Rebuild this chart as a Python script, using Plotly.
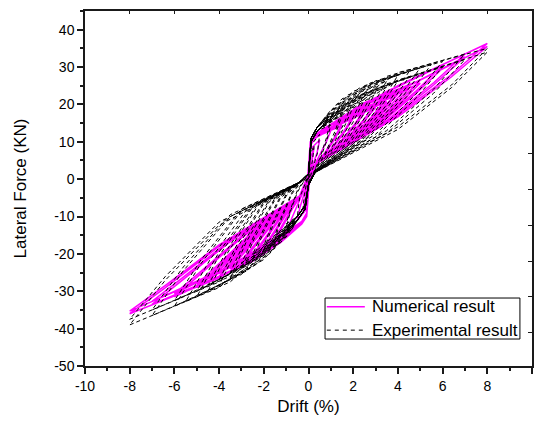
import plotly.graph_objects as go

# Drift (%) / Lateral force (kN) vertices of each hysteresis cycle
num_loops = [
    [(0, 0), (0.1, 6), (0.25, 8.5), (0.15, 5), (0.03, 0), (-0.1, -6), (-0.25, -8.5), (-0.15, -5), (-0.03, 0)],
    [(0.08, 8), (0.5, 10.5), (0.38, 7), (0.12, 2.5), (0.02, -2), (-0.08, -8), (-0.5, -11), (-0.38, -7.5), (-0.12, -2.5), (-0.02, 2)],
    [(0.08, 9), (0.3, 11), (0.6, 12), (1, 13), (0.8, 10), (0.5, 6.5), (0.25, 3.5), (0.03, -1), (-0.08, -9), (-0.3, -11.5), (-0.6, -12.8), (-1, -14), (-0.8, -11.2), (-0.5, -7), (-0.25, -3.5), (-0.03, 1)],
    [(0.08, 9.5), (0.3, 11.5), (0.75, 13.3), (1.5, 15), (1.2, 11.5), (0.75, 7.2), (0.3, 4), (0.03, -1), (-0.08, -9.5), (-0.3, -12), (-0.75, -14), (-1.5, -16.5), (-1.2, -13.2), (-0.75, -8.2), (-0.3, -4), (-0.03, 1)],
    [(0.08, 9), (0.3, 11), (0.75, 12.5), (1.5, 14.3), (1.2, 11), (0.75, 6.8), (0.3, 3.8), (0.03, -1), (-0.08, -9), (-0.3, -11.3), (-0.75, -13.2), (-1.5, -15.8), (-1.2, -12.6), (-0.75, -7.8), (-0.3, -3.8), (-0.03, 1)],
    [(0.08, 10), (0.3, 12), (1, 14.5), (2, 17), (1.6, 13), (1, 8), (0.35, 4.3), (0.03, -1), (-0.08, -10), (-0.3, -12), (-1, -15.5), (-2, -19), (-1.6, -15.2), (-1, -9.5), (-0.35, -4.5), (-0.03, 1)],
    [(0.08, 9.5), (0.3, 11.5), (1, 13.5), (2, 16.3), (1.6, 12.5), (1, 7.6), (0.35, 4), (0.03, -1), (-0.08, -9.5), (-0.3, -11.5), (-1, -14.5), (-2, -18.2), (-1.6, -14.6), (-1, -9), (-0.35, -4.2), (-0.03, 1)],
    [(0.08, 10), (0.3, 12), (1.25, 15.5), (2.5, 18.5), (2, 14.2), (1.25, 8.8), (0.4, 4.5), (0.03, -1), (-0.08, -10), (-0.3, -12), (-1.25, -17), (-2.5, -21), (-2, -16.8), (-1.25, -10.5), (-0.4, -4.7), (-0.03, 1)],
    [(0.08, 9.5), (0.3, 11.5), (1.25, 14.3), (2.5, 17.7), (2, 13.6), (1.25, 8.4), (0.4, 4.3), (0.03, -1), (-0.08, -9.5), (-0.3, -11.5), (-1.25, -15.8), (-2.5, -20.2), (-2, -16.2), (-1.25, -10), (-0.4, -4.5), (-0.03, 1)],
    [(0.08, 10), (0.3, 12), (1.5, 16.5), (3, 20), (2.4, 15.4), (1.5, 9.5), (0.4, 4.5), (0.03, -1), (-0.08, -10), (-0.3, -12), (-1.5, -18), (-3, -22.5), (-2.4, -18), (-1.5, -11.2), (-0.4, -4.7), (-0.03, 1)],
    [(0.08, 9.5), (0.3, 11.5), (1.5, 15.2), (3, 19.2), (2.4, 14.8), (1.5, 9), (0.4, 4.3), (0.03, -1), (-0.08, -9.5), (-0.3, -11.5), (-1.5, -16.7), (-3, -21.7), (-2.4, -17.4), (-1.5, -10.8), (-0.4, -4.5), (-0.03, 1)],
    [(0.08, 10), (0.3, 12), (1.75, 17.5), (3.5, 21.5), (2.8, 16.5), (1.75, 10.2), (0.4, 4.5), (0.03, -1), (-0.08, -10), (-0.3, -12), (-1.75, -19), (-3.5, -24), (-2.8, -19.2), (-1.75, -12), (-0.4, -4.7), (-0.03, 1)],
    [(0.08, 9.5), (0.3, 11.5), (1.75, 16.2), (3.5, 20.7), (2.8, 16), (1.75, 9.7), (0.4, 4.3), (0.03, -1), (-0.08, -9.5), (-0.3, -11.5), (-1.75, -17.6), (-3.5, -23.2), (-2.8, -18.6), (-1.75, -11.6), (-0.4, -4.5), (-0.03, 1)],
    [(0.08, 10), (0.3, 12), (2, 18.5), (4, 23.5), (3.2, 18), (2, 11), (0.4, 4.5), (0.03, -1), (-0.08, -10), (-0.3, -12), (-2, -20), (-4, -26), (-3.2, -20.8), (-2, -13), (-0.4, -4.7), (-0.03, 1)],
    [(0.08, 9.5), (0.3, 11.5), (2, 17), (4, 22.7), (3.2, 17.5), (2, 10.6), (0.4, 4.3), (0.03, -1), (-0.08, -9.5), (-0.3, -11.5), (-2, -18.5), (-4, -25.2), (-3.2, -20.2), (-2, -12.6), (-0.4, -4.5), (-0.03, 1)],
    [(0.08, 10), (0.3, 12), (2.25, 19.5), (4.5, 25), (3.6, 19.3), (2.25, 11.8), (0.4, 4.5), (0.03, -1), (-0.08, -10), (-0.3, -12), (-2.25, -21), (-4.5, -27.5), (-3.6, -22), (-2.25, -13.7), (-0.4, -4.7), (-0.03, 1)],
    [(0.08, 9.5), (0.3, 11.5), (2.25, 18), (4.5, 24.2), (3.6, 18.6), (2.25, 11.3), (0.4, 4.3), (0.03, -1), (-0.08, -9.5), (-0.3, -11.5), (-2.25, -19.5), (-4.5, -26.7), (-3.6, -21.4), (-2.25, -13.3), (-0.4, -4.5), (-0.03, 1)],
    [(0.08, 10), (0.3, 12), (2.5, 20.5), (5, 26.5), (4, 20.4), (2.5, 12.5), (0.4, 4.5), (0.03, -1), (-0.08, -10), (-0.3, -12), (-2.5, -22), (-5, -29), (-4, -23.2), (-2.5, -14.5), (-0.4, -4.7), (-0.03, 1)],
    [(0.08, 9.5), (0.3, 11.5), (2.5, 19), (5, 25.7), (4, 19.8), (2.5, 12), (0.4, 4.3), (0.03, -1), (-0.08, -9.5), (-0.3, -11.5), (-2.5, -20.5), (-5, -28.2), (-4, -22.6), (-2.5, -14), (-0.4, -4.5), (-0.03, 1)],
    [(0.08, 10), (0.3, 12), (3, 21.8), (6, 30.5), (4.8, 23.5), (3, 14.3), (0.4, 4.5), (0.03, -1), (-0.08, -10), (-0.3, -12), (-3, -23.2), (-6, -31.5), (-4.8, -25.2), (-3, -15.7), (-0.4, -4.7), (-0.03, 1)],
    [(0.08, 9.5), (0.3, 11.5), (3, 20.3), (6, 29.7), (4.8, 22.9), (3, 13.8), (0.4, 4.3), (0.03, -1), (-0.08, -9.5), (-0.3, -11.5), (-3, -21.7), (-6, -30.7), (-4.8, -24.6), (-3, -15.3), (-0.4, -4.5), (-0.03, 1)],
    [(0.08, 10), (0.3, 12), (3.5, 23.5), (7, 33.5), (5.6, 25.8), (3.5, 15.7), (0.4, 4.5), (0.03, -1), (-0.08, -10), (-0.3, -12), (-3.5, -24.7), (-7, -33.5), (-5.6, -26.8), (-3.5, -16.7), (-0.4, -4.7), (-0.03, 1)],
    [(0.08, 9.5), (0.3, 11.5), (3.5, 22), (7, 32.7), (5.6, 25.2), (3.5, 15.2), (0.4, 4.3), (0.03, -1), (-0.08, -9.5), (-0.3, -11.5), (-3.5, -23.2), (-7, -32.7), (-5.6, -26.2), (-3.5, -16.3), (-0.4, -4.5), (-0.03, 1)],
    [(0.08, 10), (0.3, 12), (4, 25), (8, 36.3), (6.4, 28), (4, 17.2), (0.4, 4.5), (0.03, -1), (-0.08, -10), (-0.3, -12), (-4, -26.5), (-8, -36), (-6.4, -29), (-4, -18), (-0.4, -4.7), (-0.03, 1)],
    [(0.08, 9.5), (0.3, 11.5), (4, 23.5), (8, 35.5), (6.4, 27.4), (4, 16.7), (0.4, 4.3), (0.03, -1), (-0.08, -9.5), (-0.3, -11.5), (-4, -25), (-8, -35.3), (-6.4, -28.4), (-4, -17.6), (-0.4, -4.5), (-0.03, 0)],
]

exp_loops = [
    [(0, 0), (0.1, 7), (0.25, 9), (0.18, 5), (0.05, 1), (0, -1), (-0.1, -6), (-0.25, -8), (-0.18, -4), (-0.05, 0), (0, 1)],
    [(0.1, 9), (0.5, 12), (0.4, 7), (0.15, 2), (0, -1), (-0.1, -7), (-0.5, -10), (-0.4, -5), (-0.15, -1), (0, 1)],
    [(0.12, 11), (0.4, 14), (1, 16), (0.8, 11), (0.5, 5.5), (0.2, 1.5), (0, -1.5), (-0.15, -8), (-0.5, -11), (-1, -13), (-0.8, -8.5), (-0.5, -3.5), (-0.2, -0.5), (0, 1.5)],
    [(0.12, 10), (0.4, 13), (1, 14.5), (0.8, 10), (0.5, 5), (0.2, 1.2), (0, -1.5), (-0.15, -7), (-0.5, -10), (-1, -12), (-0.8, -8), (-0.5, -3), (-0.2, -0.3), (0, 1.5)],
    [(0.12, 11), (0.4, 14), (0.75, 16.5), (1.5, 18.5), (1.2, 13), (0.75, 7), (0.25, 2), (0, -1.5), (-0.15, -8), (-0.5, -11), (-0.75, -13.5), (-1.5, -16), (-1.2, -10.5), (-0.75, -4), (-0.3, -0.5), (0, 1.5)],
    [(0.12, 10), (0.4, 13), (0.75, 15), (1.5, 17), (1.2, 12), (0.75, 6.5), (0.25, 1.8), (0, -1.5), (-0.15, -7), (-0.5, -10), (-0.75, -12.5), (-1.5, -15), (-1.2, -9.8), (-0.75, -3.6), (-0.3, -0.4), (0, 1.5)],
    [(0.12, 11), (0.4, 14), (1, 18.5), (2, 21), (1.6, 15), (1, 8), (0.3, 2), (0, -1.5), (-0.15, -8), (-0.5, -11), (-1, -15.5), (-2, -19), (-1.6, -12.5), (-1, -4.5), (-0.4, -1), (0, 1.5)],
    [(0.12, 10), (0.4, 13), (1, 16.5), (2, 19.3), (1.6, 14), (1, 7.3), (0.3, 1.8), (0, -1.5), (-0.15, -7), (-0.5, -10), (-1, -14), (-2, -17.8), (-1.6, -11.7), (-1, -4), (-0.4, -0.8), (0, 1.5)],
    [(0.12, 11), (0.4, 14), (1.25, 20), (2.5, 23), (2, 16.5), (1.25, 8.5), (0.3, 2), (0, -1.5), (-0.15, -8), (-0.5, -11), (-1.25, -17), (-2.5, -21.5), (-2, -14), (-1.25, -5), (-0.4, -1), (0, 1.5)],
    [(0.12, 10), (0.4, 13), (1.25, 18), (2.5, 21.3), (2, 15.3), (1.25, 7.8), (0.3, 1.8), (0, -1.5), (-0.15, -7), (-0.5, -10), (-1.25, -15.5), (-2.5, -20.2), (-2, -13.2), (-1.25, -4.5), (-0.4, -0.8), (0, 1.5)],
    [(0.12, 11), (0.4, 14), (1.5, 21.5), (3, 24.8), (2.4, 17.8), (1.5, 9), (0.3, 2), (0, -1.5), (-0.15, -8), (-0.5, -11), (-1.5, -18.5), (-3, -24), (-2.4, -15.5), (-1.5, -5.5), (-0.4, -1), (0, 1.5)],
    [(0.12, 10), (0.4, 13), (1.5, 19.5), (3, 23.2), (2.4, 16.7), (1.5, 8.3), (0.3, 1.8), (0, -1.5), (-0.15, -7), (-0.5, -10), (-1.5, -17), (-3, -22.6), (-2.4, -14.6), (-1.5, -5), (-0.4, -0.8), (0, 1.5)],
    [(0.12, 11), (0.4, 14), (1.75, 22.5), (3.5, 26.3), (2.8, 19), (1.75, 9.5), (0.3, 2), (0, -1.5), (-0.15, -8), (-0.5, -11), (-1.75, -20), (-3.5, -26.5), (-2.8, -17), (-1.75, -6), (-0.4, -1), (0, 1.5)],
    [(0.12, 10), (0.4, 13), (1.75, 20.5), (3.5, 24.7), (2.8, 17.8), (1.75, 8.8), (0.3, 1.8), (0, -1.5), (-0.15, -7), (-0.5, -10), (-1.75, -18.5), (-3.5, -25), (-2.8, -16), (-1.75, -5.5), (-0.4, -0.8), (0, 1.5)],
    [(0.12, 11), (0.4, 14), (2, 23.5), (4, 27.8), (3.2, 20), (2, 10), (0.3, 2), (0, -1.5), (-0.15, -8), (-0.5, -11), (-2, -21.5), (-4, -28.5), (-3.2, -18.5), (-2, -6.5), (-0.4, -1), (0, 1.5)],
    [(0.12, 10), (0.4, 13), (2, 21.5), (4, 26.3), (3.2, 19), (2, 9.3), (0.3, 1.8), (0, -1.5), (-0.15, -7), (-0.5, -10), (-2, -20), (-4, -27), (-3.2, -17.5), (-2, -6), (-0.4, -0.8), (0, 1.5)],
    [(0.12, 11), (0.4, 14), (2.25, 24.3), (4.5, 28.8), (3.6, 20.7), (2.25, 10.5), (0.3, 2), (0, -1.5), (-0.15, -8), (-0.5, -11), (-2.25, -22.5), (-4.5, -30), (-3.6, -19.5), (-2.25, -7), (-0.4, -1), (0, 1.5)],
    [(0.12, 10), (0.4, 13), (2.25, 22.3), (4.5, 27.3), (3.6, 19.7), (2.25, 9.8), (0.3, 1.8), (0, -1.5), (-0.15, -7), (-0.5, -10), (-2.25, -21), (-4.5, -28.5), (-3.6, -18.5), (-2.25, -6.5), (-0.4, -0.8), (0, 1.5)],
    [(0.12, 11), (0.4, 14), (2.5, 25), (5, 29.8), (4, 21.5), (2.5, 11), (0.3, 2), (0, -1.5), (-0.15, -8), (-0.5, -11), (-2.5, -23.5), (-5, -31.5), (-4, -20.5), (-2.5, -7.5), (-0.4, -1), (0, 1.5)],
    [(0.12, 10), (0.4, 13), (2.5, 23), (5, 28.3), (4, 20.4), (2.5, 10.3), (0.3, 1.8), (0, -1.5), (-0.15, -7), (-0.5, -10), (-2.5, -22), (-5, -30), (-4, -19.5), (-2.5, -7), (-0.4, -0.8), (0, 1.5)],
    [(0.12, 11), (0.4, 14), (2.75, 25.7), (5.5, 30.7), (4.4, 22.1), (2.75, 11.5), (0.3, 2), (0, -1.5), (-0.15, -8), (-0.5, -11), (-2.75, -24.5), (-5.5, -32.8), (-4.4, -21.5), (-2.75, -8), (-0.4, -1), (0, 1.5)],
    [(0.12, 11), (0.4, 14), (3, 26.3), (6, 31.5), (4.8, 22.7), (3, 12), (0.3, 2), (0, -1.5), (-0.15, -8), (-0.5, -11), (-3, -25.5), (-6, -34), (-4.8, -22.5), (-3, -8.5), (-0.4, -1), (0, 1.5)],
    [(0.12, 10), (0.4, 13), (3, 24.3), (6, 30), (4.8, 21.6), (3, 11.3), (0.3, 1.8), (0, -1.5), (-0.15, -7), (-0.5, -10), (-3, -24), (-6, -32.5), (-4.8, -21.5), (-3, -8), (-0.4, -0.8), (0, 1.5)],
    [(0.12, 11), (0.4, 14), (3.5, 27.5), (7, 33.5), (5.6, 24.1), (3.5, 13), (0.3, 2), (0, -1.5), (-0.15, -8), (-0.5, -11), (-3.5, -27.5), (-7, -36.5), (-5.6, -24.5), (-3.5, -10), (-0.4, -1), (0, 1.5)],
    [(0.12, 10), (0.4, 13), (3.5, 25.5), (7, 32), (5.6, 23), (3.5, 12.3), (0.3, 1.8), (0, -1.5), (-0.15, -7), (-0.5, -10), (-3.5, -26), (-7, -35), (-5.6, -23.5), (-3.5, -9.5), (-0.4, -0.8), (0, 1.5)],
    [(0.12, 11), (0.4, 14), (4, 28.5), (8, 35), (6.4, 25.2), (4, 14), (0.3, 2), (0, -1.5), (-0.15, -8), (-0.5, -11), (-4, -29), (-8, -39), (-6.4, -27), (-4, -12.3), (-0.4, -1), (0, 1.5)],
    [(0.12, 10), (0.4, 13), (4, 26.5), (8, 34), (6.4, 24.5), (4, 13.3), (0.3, 1.8), (0, -1.5), (-0.15, -7), (-0.5, -10), (-4, -27.5), (-8, -37.5), (-6.4, -26), (-4, -11.5), (-0.4, -0.8), (0, 0)],
]

x_ticks = [-10, -8, -6, -4, -2, 0, 2, 4, 6, 8, 10]
x_tick_labels = ["-10", "-8", "-6", "-4", "-2", "0", "2", "4", "6", "8", "10"]
y_ticks = [-50, -40, -30, -20, -10, 0, 10, 20, 30, 40]
y_tick_labels = ["-50", "-40", "-30", "-20", "-10", "0", "10", "20", "30", "40"]
series_names = ["Numerical result", "Experimental result"]


def flatten(loops):
    xs, ys = [], []
    for loop in loops:
        for px, py in loop:
            xs.append(px)
            ys.append(py)
    return xs, ys


num_x, num_y = flatten(num_loops)
exp_x, exp_y = flatten(exp_loops)

FONT = "Liberation Sans, Arial, sans-serif"
AX = "#1a1a1a"
MAG = "#ff00ff"

fig = go.Figure()
fig.add_trace(go.Scatter(x=num_x, y=num_y, mode="lines", name=series_names[0],
                         line=dict(color=MAG, width=1.5), showlegend=False))
fig.add_trace(go.Scatter(x=exp_x, y=exp_y, mode="lines", name=series_names[1],
                         line=dict(color="black", width=1, dash="4px,3px"), showlegend=False))
# dummy trace so the top/right frame axes are drawn
fig.add_trace(go.Scatter(x=[None], y=[None], xaxis="x2", yaxis="y2", showlegend=False))

# legend box drawn in paper coordinates (compact like the original)
lx0, lx1, ly0, ly1 = 0.537, 0.973, 0.076, 0.1915
row_y = [0.167, 0.101]
shapes = [
    dict(type="rect", xref="paper", yref="paper", x0=lx0, x1=lx1, y0=ly0, y1=ly1,
         line=dict(color="black", width=1), fillcolor="white", layer="above"),
    dict(type="line", xref="paper", yref="paper", x0=0.541, x1=0.626, y0=row_y[0], y1=row_y[0],
         line=dict(color=MAG, width=1.5), layer="above"),
    dict(type="line", xref="paper", yref="paper", x0=0.541, x1=0.626, y0=row_y[1], y1=row_y[1],
         line=dict(color="black", width=1, dash="4px,4px"), layer="above"),
]
annotations = [
    dict(xref="paper", yref="paper", x=0.638, y=row_y[i], text=series_names[i], showarrow=False,
         xanchor="left", yanchor="middle", font=dict(size=17, family=FONT, color="black"))
    for i in range(2)
]

fig.update_layout(
    width=536, height=423,
    margin=dict(l=85, r=4, t=11, b=57),
    paper_bgcolor="white", plot_bgcolor="white",
    font=dict(family=FONT, color="black"),
    showlegend=False,
    shapes=shapes, annotations=annotations,
    xaxis=dict(range=[-10, 10], tickvals=x_ticks, ticktext=x_tick_labels, ticks="outside", ticklen=6, tickwidth=1.5,
               tickcolor=AX, showline=True, linecolor=AX, linewidth=1.5, showgrid=False,
               zeroline=False, tickfont=dict(size=14), title=dict(text="Drift (%)", font=dict(size=17), standoff=8),
               minor=dict(dtick=1, ticks="outside", ticklen=3.5, tickwidth=1.5, tickcolor=AX)),
    yaxis=dict(range=[-50, 45], tickvals=y_ticks, ticktext=y_tick_labels, ticks="outside", ticklen=6, tickwidth=1.5,
               tickcolor=AX, showline=True, linecolor=AX, linewidth=1.5, showgrid=False,
               zeroline=False, tickfont=dict(size=14), title=dict(text="Lateral Force (KN)", font=dict(size=17), standoff=23),
               minor=dict(dtick=5, ticks="outside", ticklen=3.5, tickwidth=1.5, tickcolor=AX)),
    xaxis2=dict(overlaying="x", side="top", range=[-10, 10], tickvals=x_ticks, ticks="inside",
                ticklen=3, tickwidth=1, tickcolor=AX, showline=True, linecolor=AX, linewidth=1.5,
                showticklabels=False, showgrid=False, zeroline=False, anchor="y"),
    yaxis2=dict(overlaying="y", side="right", range=[-49.3, 49.8], dtick=10, tick0=0, ticks="inside",
                ticklen=4, tickwidth=1, tickcolor=AX, showline=True, linecolor=AX, linewidth=1.5,
                showticklabels=False, showgrid=False, zeroline=False, anchor="x"),
)

fig.write_html("out.html")
